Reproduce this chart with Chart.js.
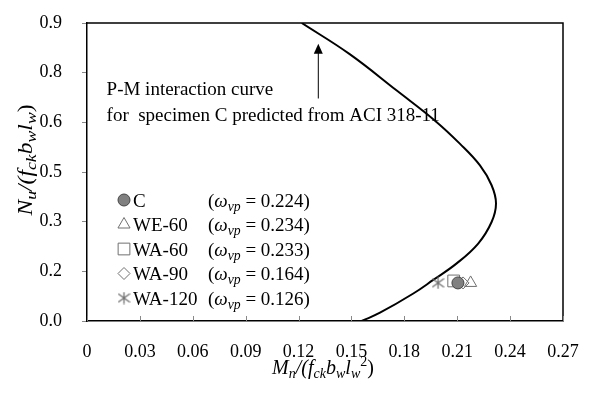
<!DOCTYPE html>
<html>
<head>
<meta charset="utf-8">
<script src="https://cdn.jsdelivr.net/npm/chart.js@4.4.0/dist/chart.umd.min.js"></script>
<style>
  html, body { margin: 0; padding: 0; background: #fff; }
</style>
</head>
<body>
<canvas id="pm" width="600" height="393"></canvas>
<script>
// test specimens
const specimens = ["C", "WE-60", "WA-60", "WA-90", "WA-120"];
const omegaVp = ["0.224", "0.234", "0.233", "0.164", "0.126"];
const momentM = [0.2104, 0.2176, 0.2080, 0.2133, 0.1991];
const axialN = [0.115, 0.115, 0.121, 0.115, 0.115];

// P-M interaction curve, ACI 318-11
const curveM = [0.1218, 0.149, 0.1757, 0.1974, 0.2116, 0.2229, 0.2295, 0.232, 0.2295, 0.2219, 0.2097, 0.1964, 0.1851, 0.1662, 0.1558];
const curveN = [0.9, 0.806, 0.696, 0.605, 0.535, 0.47, 0.41, 0.355, 0.299, 0.234, 0.174, 0.124, 0.083, 0.025, 0];

const xTicks = [0, 0.03, 0.06, 0.09, 0.12, 0.15, 0.18, 0.21, 0.24, 0.27];
const xTickLabels = ["0", "0.03", "0.06", "0.09", "0.12", "0.15", "0.18", "0.21", "0.24", "0.27"];
const yTicks = [0, 0.15, 0.3, 0.45, 0.6, 0.75, 0.9];
const yTickLabels = ["0.0", "0.2", "0.3", "0.5", "0.6", "0.8", "0.9"];

const noteLines = ["P-M interaction curve", "for  specimen C predicted from ACI 318-11"];

const FONT = "'Liberation Serif', 'Times New Roman', serif";
const GRAY = "#707070";

// excel style star marker (x with a vertical bar)
function makeStar(size, color) {
  const c = document.createElement("canvas");
  c.width = size; c.height = size;
  const g = c.getContext("2d");
  g.strokeStyle = color;
  g.lineWidth = 1.3;
  const h = size / 2;
  g.beginPath();
  g.moveTo(h, 0.5); g.lineTo(h, size - 0.5);
  g.moveTo(h - 0.45 * size, h - 0.32 * size); g.lineTo(h + 0.45 * size, h + 0.32 * size);
  g.moveTo(h - 0.45 * size, h + 0.32 * size); g.lineTo(h + 0.45 * size, h - 0.32 * size);
  g.stroke();
  return c;
}
const star = makeStar(13, GRAY);

const markers = [
  { style: "circle", r: 6, bg: "#808080", border: "#444" },
  { style: "triangle", r: 7, bg: "transparent", border: GRAY },
  { style: "rect", r: 8.3, bg: "transparent", border: GRAY },
  { style: "rectRot", r: 6, bg: "transparent", border: GRAY },
  { style: star, r: 6, bg: "transparent", border: GRAY }
];

// draws italic / subscript pieces one after another
function richText(ctx, parts, x, y, size, align, subScale) {
  const k = subScale || 0.66;
  const fontFor = (p) => {
    const s = p.sub || p.sup ? size * k : size;
    return (p.i ? "italic " : "") + s + "px " + FONT;
  };
  let total = 0;
  parts.forEach(p => { ctx.font = fontFor(p); total += ctx.measureText(p.t).width; });
  let cx = align === "center" ? x - total / 2 : x;
  ctx.textAlign = "left";
  ctx.textBaseline = "alphabetic";
  parts.forEach(p => {
    ctx.font = fontFor(p);
    let dy = 0;
    if (p.sub) dy = size * 0.22;
    if (p.sup) dy = -size * 0.42;
    ctx.fillText(p.t, cx, y + dy);
    cx += ctx.measureText(p.t).width;
  });
}

const extras = {
  id: "extras",
  afterDraw(chart) {
    const ctx = chart.ctx;
    const area = chart.chartArea;
    const xs = chart.scales.x, ys = chart.scales.y;
    ctx.save();

    // frame top + right
    ctx.strokeStyle = "#000";
    ctx.lineWidth = 1.5;
    ctx.beginPath();
    ctx.moveTo(area.left, area.top);
    ctx.lineTo(area.right, area.top);
    ctx.lineTo(area.right, area.bottom);
    ctx.stroke();

    // inside ticks on x axis
    ctx.strokeStyle = "#888";
    ctx.lineWidth = 1;
    ctx.beginPath();
    xTicks.forEach(v => {
      const p = Math.round(xs.getPixelForValue(v)) + 0.5;
      ctx.moveTo(p, area.bottom);
      ctx.lineTo(p, area.bottom - 5);
    });
    ctx.stroke();

    // arrow pointing at curve
    const ax = xs.getPixelForValue(0.1312);
    const a0 = ys.getPixelForValue(0.672);
    const a1 = ys.getPixelForValue(0.837);
    ctx.strokeStyle = "#000";
    ctx.fillStyle = "#000";
    ctx.lineWidth = 1;
    ctx.beginPath();
    ctx.moveTo(ax, a0);
    ctx.lineTo(ax, a1 + 8);
    ctx.stroke();
    ctx.beginPath();
    ctx.moveTo(ax, a1);
    ctx.lineTo(ax - 4.5, a1 + 10);
    ctx.lineTo(ax + 4.5, a1 + 10);
    ctx.closePath();
    ctx.fill();

    // note text
    ctx.fillStyle = "#000";
    ctx.font = "19px " + FONT;
    ctx.textAlign = "left";
    ctx.textBaseline = "alphabetic";
    ctx.fillText(noteLines[0], xs.getPixelForValue(0.0111), 95);
    ctx.fillText(noteLines[1], xs.getPixelForValue(0.0111), 121);

    // legend
    const helpers = Chart.helpers;
    specimens.forEach((name, i) => {
      const rowY = 200 + i * 24.5;
      const m = markers[i];
      ctx.fillStyle = m.bg;
      ctx.strokeStyle = m.border;
      ctx.lineWidth = 1;
      helpers.drawPoint(ctx, { pointStyle: m.style, radius: m.r, borderWidth: 1 }, 124, rowY);
      ctx.fillStyle = "#000";
      ctx.font = "19px " + FONT;
      ctx.textAlign = "left";
      ctx.textBaseline = "alphabetic";
      ctx.fillText(name, 133, rowY + 6.5);
      richText(ctx, [
        { t: "(" },
        { t: "\u03c9", i: true },
        { t: "vp", i: true, sub: true },
        { t: " = " + omegaVp[i] + ")" }
      ], 208, rowY + 6.5, 19, "left", 0.72);
    });

    // axis titles
    richText(ctx, [
      { t: "M", i: true }, { t: "n", i: true, sub: true },
      { t: "/(", i: true },
      { t: "f", i: true }, { t: "ck", i: true, sub: true },
      { t: "b", i: true }, { t: "w", i: true, sub: true },
      { t: "l", i: true }, { t: "w", i: true, sub: true },
      { t: "2", sup: true }, { t: ")" }
    ], (area.left + area.right) / 2 - 2, 374, 20, "center", 0.7);

    ctx.save();
    ctx.translate(26, 160);
    ctx.rotate(-Math.PI / 2);
    ctx.scale(1.18, 1);
    richText(ctx, [
      { t: "N", i: true }, { t: "u", i: true, sub: true },
      { t: "/(", i: true },
      { t: "f", i: true }, { t: "ck", i: true, sub: true },
      { t: "b", i: true }, { t: "w", i: true, sub: true },
      { t: "l", i: true }, { t: "w", i: true, sub: true },
      { t: ")" }
    ], 0, 6, 20, "center", 0.75);
    ctx.restore();

    ctx.restore();
  }
};

const datasets = specimens.map((name, i) => ({
  label: name,
  data: [{ x: momentM[i], y: axialN[i] }],
  pointStyle: markers[i].style,
  pointRadius: markers[i].r,
  backgroundColor: markers[i].bg,
  borderColor: markers[i].border,
  borderWidth: 1
}));
datasets.push({
  label: "ACI 318-11",
  data: curveM.map((m, i) => ({ x: m, y: curveN[i] })),
  showLine: true,
  pointRadius: 0,
  borderColor: "#000",
  borderWidth: 2,
  tension: 0.4,
  fill: false
});

new Chart(document.getElementById("pm"), {
  type: "scatter",
  data: { datasets: datasets },
  options: {
    responsive: false,
    animation: false,
    layout: { padding: { top: 23, right: 37, left: 0, bottom: 0 } },
    plugins: {
      legend: { display: false },
      tooltip: { enabled: false }
    },
    scales: {
      x: {
        type: "linear",
        min: 0,
        max: 0.27,
        afterBuildTicks: s => { s.ticks = xTicks.map(v => ({ value: v })); },
        afterFit: s => { s.height = 72; s.paddingLeft = 0; s.paddingRight = 0; },
        ticks: {
          callback: (v, i) => xTickLabels[i],
          font: { family: FONT, size: 18 },
          color: "#000",
          padding: 12,
          maxRotation: 0,
          autoSkip: false
        },
        grid: { display: false },
        border: { color: "#000", width: 1.5 }
      },
      y: {
        min: 0,
        max: 0.9,
        afterBuildTicks: s => { s.ticks = yTicks.map(v => ({ value: v })); },
        afterFit: s => { s.width = 87; s.paddingTop = 0; s.paddingBottom = 0; },
        ticks: {
          callback: (v, i) => yTickLabels[i],
          font: { family: FONT, size: 18 },
          color: "#000",
          padding: 20,
          autoSkip: false
        },
        grid: { drawOnChartArea: false, tickLength: 5, color: "#888" },
        border: { color: "#000", width: 1.5 }
      }
    }
  },
  plugins: [extras]
});
</script>
</body>
</html>
